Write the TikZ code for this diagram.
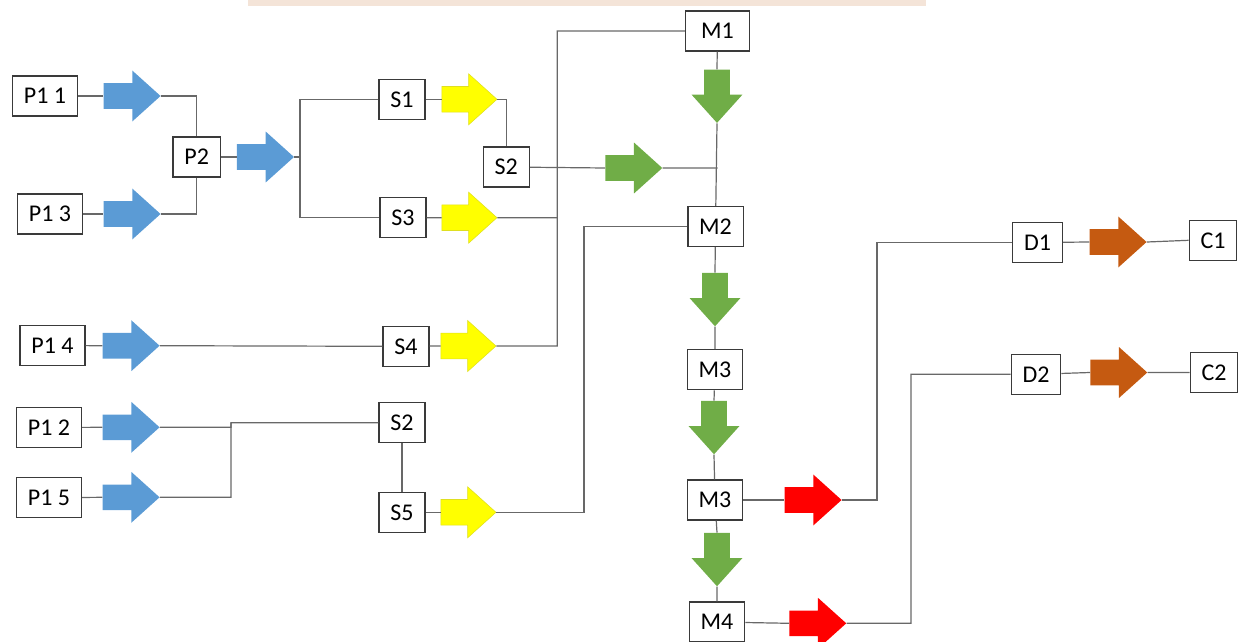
\documentclass[tikz,border=0pt]{standalone}
\usepackage{fontspec}
\setmainfont{Carlito}
\usepackage{tikz}
\usetikzlibrary{shapes.arrows,calc}
\definecolor{FlowBlue}{HTML}{5B9BD5}
\definecolor{FlowYellow}{HTML}{FFFF00}
\definecolor{FlowGreen}{HTML}{70AD47}
\definecolor{FlowRed}{HTML}{FF0000}
\definecolor{FlowBrown}{HTML}{C55A11}
\definecolor{FlowLine}{HTML}{686868}
\definecolor{FlowInk}{HTML}{3A3A3A}
\definecolor{FlowBand}{HTML}{F4E4D8}
\tikzset{
  stagebox/.style={draw=FlowInk, line width=1pt, fill=white, text=black, font=\fontsize{18}{21}\selectfont, inner xsep=8.5pt, inner ysep=0pt, minimum height=30pt},
  blockarrow/.style={single arrow, anchor=tail, inner xsep=0pt, inner ysep=9.4pt, minimum height=42.75pt, minimum width=0pt, single arrow head extend=9.5pt, single arrow tip angle=84},
  bluearrow/.style={blockarrow, fill=FlowBlue},
  yellowarrow/.style={blockarrow, minimum height=41.25pt, fill=FlowYellow, draw=FlowYellow!75!gray, line width=0.4pt},
  greenarrow/.style={blockarrow, fill=FlowGreen},
  downarrow/.style={greenarrow, minimum height=40pt, rotate=-90},
  redarrow/.style={blockarrow, fill=FlowRed},
  brownarrow/.style={blockarrow, fill=FlowBrown},
  link/.style={draw=FlowLine, line width=0.9pt}
}
\begin{document}
\begin{tikzpicture}[x=0.75pt, y=-0.75pt]
\useasboundingbox (0,0) rectangle (1238,642);
\fill[FlowBand] (248,0) rectangle (926,6.5);
% first process row
\node[stagebox] (p11) at (45,96) {P1 1};
\node[stagebox] (p13) at (50,214) {P1 3};
\node[stagebox] (p2) at (196.7,157) {P2};
\node[stagebox] (s1) at (402,99.3) {S1};
\node[stagebox] (s3) at (403,217.8) {S3};
\node[stagebox] (s2a) at (506.3,167) {S2};
\node[bluearrow] (ab1) at (103.3,96) {};
\node[bluearrow] (ab3) at (103.3,214) {};
\node[bluearrow] (ab2) at (236.7,157) {};
\node[yellowarrow] (ay1) at (441.7,99.3) {};
\node[yellowarrow] (ay3) at (441.7,217.7) {};
% lower process rows
\node[stagebox] (p14) at (52.5,345.5) {P1 4};
\node[stagebox] (s4) at (406,346.3) {S4};
\node[stagebox] (p12) at (49,427.5) {P1 2};
\node[stagebox] (p15) at (49,497.7) {P1 5};
\node[stagebox] (s2b) at (402,422.7) {S2};
\node[stagebox] (s5) at (402,512.3) {S5};
\node[bluearrow] (ab4) at (102.3,345.7) {};
\node[bluearrow] (ab5) at (102.3,427.3) {};
\node[bluearrow] (ab6) at (102.3,497.3) {};
\node[yellowarrow] (ay4) at (440.7,346) {};
\node[yellowarrow] (ay5) at (440.7,512.3) {};
% main column
\node[stagebox, minimum width=48pt] (m1) at (717.5,31) {M1};
\node[stagebox] (m2) at (715.5,226.5) {M2};
\node[stagebox] (m3a) at (715,369.7) {M3};
\node[stagebox] (m3b) at (715,500) {M3};
\node[stagebox] (m4) at (717,622) {M4};
\node[greenarrow] (ag0) at (605,168) {};
\node[downarrow] (ag1) at (717,69.3) {};
\node[downarrow] (ag2) at (715,272.7) {};
\node[downarrow] (ag3) at (714,400.7) {};
\node[downarrow] (ag4) at (717,532.7) {};
\node[redarrow] (ar1) at (784.3,500) {};
\node[redarrow] (ar2) at (789,623.3) {};
% distribution
\node[stagebox] (d1) at (1037.5,242.5) {D1};
\node[stagebox] (d2) at (1036,374.3) {D2};
\node[stagebox] (c1) at (1213,240.3) {C1};
\node[stagebox] (c2) at (1214,372.5) {C2};
\node[brownarrow] (ac1) at (1089.3,242) {};
\node[brownarrow] (ac2) at (1090,372.5) {};
\coordinate (fork) at (300,157);
\coordinate (bus) at (557.3,346);
\coordinate (join) at (231,422.7);
\coordinate (m2in) at (584,226.5);
\coordinate (d1in) at (877,242.5);
\coordinate (d2in) at (911,374.3);
% links
\draw[link] (p11) -- (ab1.tail) (ab1.tip) -| (p2.north);
\draw[link] (p13) -- (ab3.tail) (ab3.tip) -| (p2.south);
\draw[link] (p2) -- (ab2.tail) (ab2.tip) -- (fork);
\draw[link] (s1.west) -| (fork) |- (s3.west);
\draw[link] (s1) -- (ay1.tail) (ay1.tip) -| (s2a.north);
\draw[link] (s3) -- (ay3.tail) (ay3.tip) -- (ay3.tip -| bus);
\draw[link] (p14) -- (ab4.tail) (ab4.tip) -- (s4.west);
\draw[link] (s4) -- (ay4.tail) (ay4.tip) -- (bus) |- (m1.west);
\draw[link] (p12) -- (ab5.tail) (ab5.tip) -| (join);
\draw[link] (p15) -- (ab6.tail) (ab6.tip) -| (join) -- (s2b.west);
\draw[link] (s2b) -- (s5);
\draw[link] (s5) -- (ay5.tail) (ay5.tip) -| (m2in) -- (m2.west);
\draw[link] (s2a) -- (ag0.tail) (ag0.tip) -- (ag0.tip -| m1.south);
\draw[link] (m1) -- (ag1.tail) (ag1.tip) -- (m2);
\draw[link] (m2) -- (ag2.tail) (ag2.tip) -- (m3a);
\draw[link] (m3a) -- (ag3.tail) (ag3.tip) -- (m3b);
\draw[link] (m3b) -- (ag4.tail) (ag4.tip) -- (m4);
\draw[link] (m3b) -- (ar1.tail) (ar1.tip) -| (d1in) -- (d1.west);
\draw[link] (m4) -- (ar2.tail) (ar2.tip) -| (d2in) -- (d2.west);
\draw[link] (d1) -- (ac1.tail) (ac1.tip) -- (c1.west);
\draw[link] (d2) -- (ac2.tail) (ac2.tip) -- (c2.west);
\end{tikzpicture}
\end{document}
